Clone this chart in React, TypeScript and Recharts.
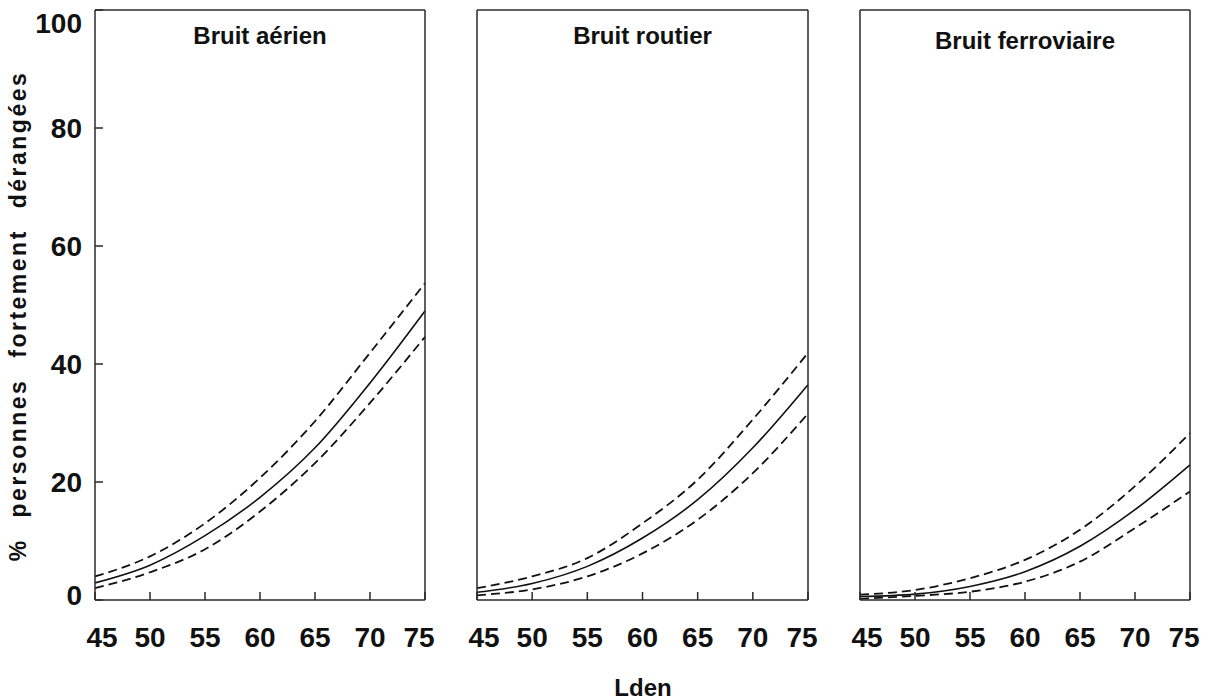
import React from "react";
import { LineChart, Line, XAxis, YAxis } from "recharts";

// Lden (dB) values where the curves were read
const lden = [45, 50, 55, 60, 65, 70, 75];
const yTicks = [0, 20, 40, 60, 80, 100];

// % highly annoyed
const aerienMid = [2.9, 5.9, 10.9, 17.4, 25.8, 36.8, 49.0];
const aerienHigh = [4.0, 7.4, 13.0, 20.7, 30.3, 41.9, 53.7];
const aerienLow = [2.0, 4.7, 8.6, 15.0, 23.2, 33.4, 44.6];

const routierMid = [1.3, 2.8, 5.7, 10.5, 17.0, 25.8, 36.5];
const routierHigh = [2.0, 4.0, 7.1, 13.0, 20.4, 30.6, 41.9];
const routierLow = [0.8, 1.8, 4.0, 7.9, 13.6, 21.5, 31.6];

const ferroMid = [0.6, 1.0, 2.3, 4.8, 9.1, 15.3, 22.9];
const ferroHigh = [0.9, 1.7, 3.7, 6.8, 11.9, 19.3, 28.3];
const ferroLow = [0.2, 0.7, 1.4, 3.1, 6.5, 12.2, 18.4];

const FONT = '"Liberation Sans", Arial, sans-serif';
const INK = "#111";
const AXIS = "#2a2a2a";

const buildRows = (mid: number[], high: number[], low: number[]) =>
  lden.map((x, i) => ({ lden: x, mid: mid[i], high: high[i], low: low[i] }));

// mirrored axes: ticks point inward, labels pushed outside by hand
const XTick = (props: any) => {
  const { x, y, payload } = props;
  const v = payload.value;
  const shift = v === 45 ? 7 : v === 75 ? -6 : 0;
  return (
    <text x={x + shift} y={y + 35} dy="0.71em" textAnchor="middle" fontFamily={FONT} fontWeight="bold" fontSize={28} fill={INK}>
      {v}
    </text>
  );
};

const YTick = (props: any) => {
  const { x, y, payload } = props;
  const yy = Math.min(Math.max(y, 23), 595);
  return (
    <text x={x - 21} y={yy} dy="0.355em" textAnchor="end" fontFamily={FONT} fontWeight="bold" fontSize={28} fill={INK}>
      {payload.value}
    </text>
  );
};

interface PanelProps {
  plotLeft: number;
  plotRight: number;
  rows: { lden: number; mid: number; high: number; low: number }[];
  title: string;
  titleTop: number;
  labels: boolean;
}

const Panel = ({ plotLeft, plotRight, rows, title, titleTop, labels }: PanelProps) => {
  const chartLeft = labels ? 0 : plotLeft - 20;
  const width = plotRight - chartLeft + 15;
  return (
    <>
      <div style={{ position: "absolute", left: chartLeft, top: 0 }}>
        <LineChart
          width={width}
          height={700}
          data={rows}
          margin={{ top: 10, right: 15, bottom: 100, left: plotLeft - chartLeft }}
        >
          <XAxis
            dataKey="lden"
            type="number"
            domain={[45, 75]}
            ticks={lden}
            interval={0}
            height={10}
            mirror
            tickSize={8}
            tickMargin={0}
            tick={<XTick />}
            stroke={AXIS}
            strokeWidth={1.5}
          />
          <XAxis
            xAxisId="top"
            dataKey="lden"
            type="number"
            orientation="top"
            domain={[45, 75]}
            ticks={lden}
            interval={0}
            height={10}
            mirror
            tick={false}
            tickSize={8}
            stroke={AXIS}
            strokeWidth={1.5}
          />
          <YAxis
            type="number"
            domain={[0, 100]}
            ticks={yTicks}
            interval={0}
            width={10}
            mirror
            tickSize={8}
            tickMargin={0}
            tick={labels ? <YTick /> : false}
            stroke={AXIS}
            strokeWidth={1.5}
          />
          <YAxis
            yAxisId="right"
            orientation="right"
            type="number"
            domain={[0, 100]}
            ticks={yTicks}
            interval={0}
            width={10}
            mirror
            tick={false}
            tickSize={8}
            stroke={AXIS}
            strokeWidth={1.5}
          />
          <Line type="monotone" dataKey="high" stroke={INK} strokeWidth={1.8} strokeDasharray="9 5" dot={false} isAnimationActive={false} />
          <Line type="monotone" dataKey="mid" stroke={INK} strokeWidth={1.6} dot={false} isAnimationActive={false} />
          <Line type="monotone" dataKey="low" stroke={INK} strokeWidth={1.8} strokeDasharray="9 5" dot={false} isAnimationActive={false} />
        </LineChart>
      </div>
      <div
        style={{
          position: "absolute",
          left: plotLeft,
          width: plotRight - plotLeft,
          top: titleTop,
          textAlign: "center",
          fontFamily: FONT,
          fontWeight: "bold",
          fontSize: 24,
          lineHeight: "24px",
          color: INK,
        }}
      >
        {title}
      </div>
    </>
  );
};

export default function App() {
  return (
    <div style={{ position: "absolute", left: 0, top: 0, width: 1208, height: 700, background: "#fff", overflow: "hidden" }}>
      <Panel plotLeft={95} plotRight={425} rows={buildRows(aerienMid, aerienHigh, aerienLow)} title="Bruit aérien" titleTop={24} labels />
      <Panel plotLeft={477} plotRight={808} rows={buildRows(routierMid, routierHigh, routierLow)} title="Bruit routier" titleTop={24} labels={false} />
      <Panel plotLeft={860} plotRight={1190} rows={buildRows(ferroMid, ferroHigh, ferroLow)} title="Bruit ferroviaire" titleTop={29} labels={false} />
      <div
        style={{
          position: "absolute",
          left: 18 - 300,
          top: 316 - 12,
          width: 600,
          height: 24,
          lineHeight: "24px",
          textAlign: "center",
          transform: "rotate(-90deg)",
          transformOrigin: "center",
          fontFamily: FONT,
          fontWeight: "bold",
          fontSize: 23,
          letterSpacing: 2.5,
          wordSpacing: 12,
          color: INK,
          whiteSpace: "nowrap",
        }}
      >
        % personnes fortement dérangées
      </div>
      <div
        style={{
          position: "absolute",
          left: 543,
          width: 200,
          top: 676,
          textAlign: "center",
          fontFamily: FONT,
          fontWeight: "bold",
          fontSize: 24,
          lineHeight: "24px",
          color: INK,
        }}
      >
        Lden
      </div>
    </div>
  );
}
